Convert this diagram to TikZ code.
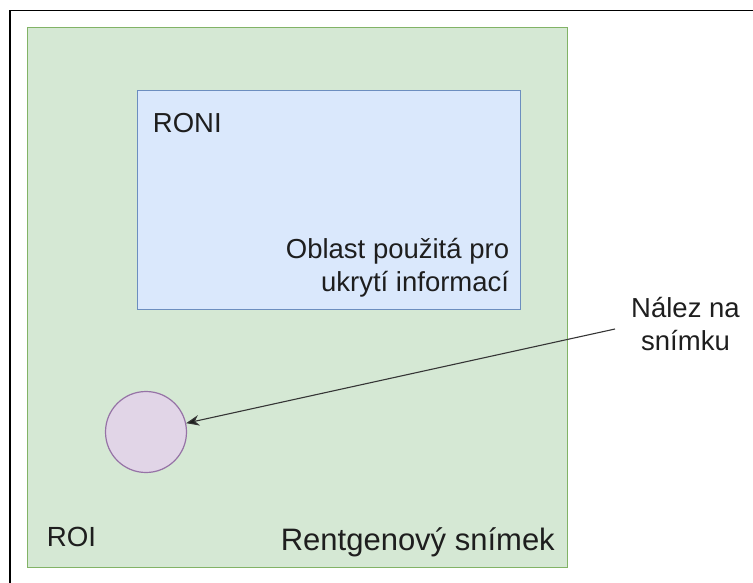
\documentclass[tikz,border=0pt]{standalone}
\usepackage{fontspec}
\setmainfont{Liberation Sans}
\usetikzlibrary{arrows.meta}

\definecolor{xrayfill}{HTML}{D5E8D4}
\definecolor{xrayline}{HTML}{82B366}
\definecolor{roniFill}{HTML}{DAE8FC}
\definecolor{roniLine}{HTML}{6C8EBF}
\definecolor{findFill}{HTML}{E1D5E7}
\definecolor{findLine}{HTML}{9673A6}
\definecolor{ink}{HTML}{1E1E1E}

\tikzset{
  area/.style={rectangle, inner sep=0pt, line width=1.2pt, anchor=north west},
  label/.style={inner sep=0pt, text=ink, font=\fontsize{27.5}{32.7}\selectfont},
  biglabel/.style={inner sep=0pt, text=ink, font=\fontsize{31}{36}\selectfont},
  pointer/.style={draw=ink!90, line width=1.1pt,
    -{Stealth[length=13pt, width=10.5pt, inset=4pt, fill=ink]}},
}

\begin{document}
\begin{tikzpicture}[x=1pt, y=-1pt]
\useasboundingbox (0,0) rectangle (753,582);

% frame of the page
\draw[line width=1.5pt] (10,600) -- (10,10.7) -- (770,10.7);

% the X-ray image (ROI)
\node (xray) [area, draw=xrayline, fill=xrayfill,
  minimum width=540pt, minimum height=540pt] at (27,27) {};

% region of non-interest used for hiding data
\node (roni) [area, draw=roniLine, fill=roniFill,
  minimum width=383pt, minimum height=219pt] at (137,90) {};

% the finding
\node (finding) [circle, draw=findLine, fill=findFill, line width=1.2pt,
  minimum size=81pt, inner sep=0pt] at (146,432) {};

% texts
\node (roniname) [label, anchor=base west] at (152.7,132.7) {RONI};
\node (ronidesc) [label, anchor=base east] at (509.3,258.3)
  {\begin{tabular}[t]{@{}r@{}}Oblast použitá pro\\ukrytí informací\end{tabular}};
\node (roiname) [label, anchor=base west, font=\fontsize{27.7}{33}\selectfont]
  at (46.7,546.7) {ROI};
\node (xrayname) [biglabel, anchor=base east] at (555,550) {Rentgenový snímek};
\node (note) [label, anchor=base] at (685.5,317.3)
  {\begin{tabular}[t]{@{}c@{}}Nález na\\snímku\end{tabular}};

% pointer from the note to the finding
\coordinate (notetail) at (615,329);
\draw[pointer] (notetail) -- (finding);
\end{tikzpicture}
\end{document}
